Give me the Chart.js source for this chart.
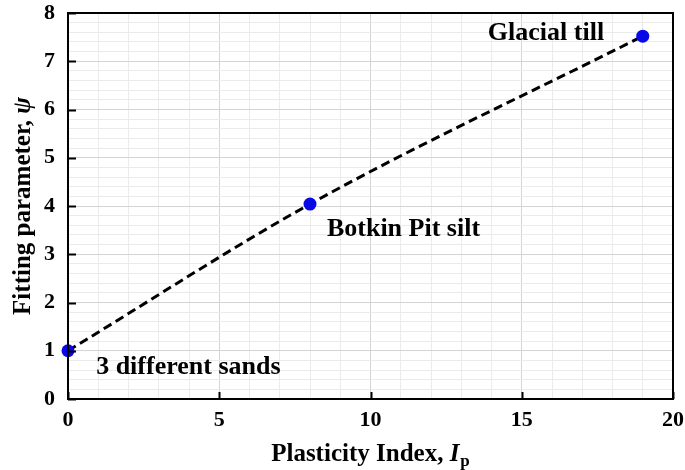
<!DOCTYPE html>
<html><head><meta charset="utf-8">
<script src="https://cdn.jsdelivr.net/npm/chart.js@4"></script>
<style>html,body{margin:0;padding:0;background:#fff}#wrap{width:685px;height:470px}</style>
</head><body><div id="wrap"><canvas id="c" width="685" height="470"></canvas></div>
<script>
// Data
const plasticityIndex = [0, 8, 19];
const fittingParam = [1.0, 4.04, 7.52];
const pointLabels = ['3 different sands', 'Botkin Pit silt', 'Glacial till'];
const labelX = [0.93, 8.56, 13.88];
const labelY = [0.66, 3.52, 7.59];
const xMajorTicks = [0, 5, 10, 15, 20];
const yMajorTicks = [0, 1, 2, 3, 4, 5, 6, 7, 8];

const FONT = '"Liberation Serif", "Times New Roman", serif';
const isInt = v => Math.abs(v - Math.round(v)) < 1e-6;

const overlay = {
  id: 'overlay',
  afterDatasetsDraw(chart) {
    const ctx = chart.ctx, xs = chart.scales.x, ys = chart.scales.y;
    ctx.save();
    ctx.fillStyle = '#000';
    ctx.font = 'bold 26px ' + FONT;
    ctx.textAlign = 'left';
    ctx.textBaseline = 'middle';
    pointLabels.forEach((t, i) => {
      ctx.fillText(t, xs.getPixelForValue(labelX[i]), ys.getPixelForValue(labelY[i]));
    });
    ctx.restore();
  },
  afterDraw(chart) {
    const ctx = chart.ctx, a = chart.chartArea, xs = chart.scales.x, ys = chart.scales.y;
    ctx.save();
    ctx.strokeStyle = '#000';
    ctx.lineWidth = 2;
    ctx.beginPath();
    xMajorTicks.forEach(v => {
      const px = Math.round(xs.getPixelForValue(v)) + 0.5;
      ctx.moveTo(px, a.bottom); ctx.lineTo(px, a.bottom - 7);
    });
    yMajorTicks.forEach(v => {
      const py = Math.round(ys.getPixelForValue(v)) + 0.5;
      ctx.moveTo(a.left, py); ctx.lineTo(a.left + 8, py);
    });
    ctx.stroke();
    ctx.strokeRect(a.left, a.top, a.right - a.left, a.bottom - a.top);

    // X title
    ctx.fillStyle = '#000';
    ctx.textBaseline = 'alphabetic';
    const p1 = 'Plasticity Index, ', p2 = 'I', p3 = 'p';
    const fN = 'bold 25px ' + FONT, fI = 'italic bold 25px ' + FONT, fS = 'bold 17px ' + FONT;
    ctx.font = fN; const w1 = ctx.measureText(p1).width;
    ctx.font = fI; const w2 = ctx.measureText(p2).width;
    ctx.font = fS; const w3 = ctx.measureText(p3).width;
    const cx = (a.left + a.right) / 2;
    let x0 = cx - (w1 + w2 + w3 + 1) / 2;
    const by = 461;
    ctx.textAlign = 'left';
    ctx.font = fN; ctx.fillText(p1, x0, by);
    ctx.font = fI; ctx.fillText(p2, x0 + w1, by);
    ctx.font = fS; ctx.fillText(p3, x0 + w1 + w2 + 1, by + 5);

    // Y title
    const q1 = 'Fitting parameter, ', q2 = '\u03C8';
    ctx.font = fN; const v1 = ctx.measureText(q1).width;
    ctx.font = fI; const v2 = ctx.measureText(q2).width;
    ctx.translate(30, (a.top + a.bottom) / 2);
    ctx.rotate(-Math.PI / 2);
    const y0 = -(v1 + v2) / 2;
    ctx.font = fN; ctx.fillText(q1, y0, 0);
    ctx.font = fI; ctx.fillText(q2, y0 + v1, 0);
    ctx.restore();
  }
};

new Chart(document.getElementById('c'), {
  type: 'line',
  data: {
    datasets: [{
      data: plasticityIndex.map((x, i) => ({ x, y: fittingParam[i] })),
      borderColor: '#000',
      borderWidth: 3,
      borderDash: [9, 5],
      cubicInterpolationMode: 'monotone',
      pointRadius: 6.5,
      pointHoverRadius: 6.5,
      pointBackgroundColor: '#0808e8',
      pointBorderColor: '#0808e8',
      pointBorderWidth: 0,
      fill: false,
      clip: false
    }]
  },
  options: {
    responsive: false,
    animation: false,
    devicePixelRatio: 1,
    layout: { padding: { top: 13, right: 12, left: 0, bottom: 0 } },
    plugins: { legend: { display: false }, tooltip: { enabled: false } },
    scales: {
      x: {
        type: 'linear', min: 0, max: 20,
        afterFit: s => { s.height = 71; s.paddingLeft = 0; s.paddingRight = 0; },
        border: { display: false },
        grid: {
          drawTicks: false, lineWidth: 1,
          color: c => (c.tick && isInt(c.tick.value / 5)) ? '#d4d4d4' : '#ebebeb'
        },
        ticks: {
          stepSize: 1, autoSkip: false, maxRotation: 0, padding: 8,
          color: '#000', font: { family: FONT, size: 22, weight: 'bold' },
          callback: v => isInt(v / 5) ? String(Math.round(v)) : ''
        }
      },
      y: {
        type: 'linear', min: 0, max: 8,
        afterFit: s => { s.width = 68; s.paddingTop = 0; s.paddingBottom = 0; },
        border: { display: false },
        grid: {
          drawTicks: false, lineWidth: 1,
          color: c => (c.tick && isInt(c.tick.value)) ? '#d4d4d4' : '#ebebeb'
        },
        ticks: {
          stepSize: 0.2, autoSkip: false, padding: 13,
          color: '#000', font: { family: FONT, size: 22, weight: 'bold' },
          callback: v => isInt(v) ? String(Math.round(v)) : ''
        }
      }
    }
  },
  plugins: [overlay]
});
</script>
</body></html>
